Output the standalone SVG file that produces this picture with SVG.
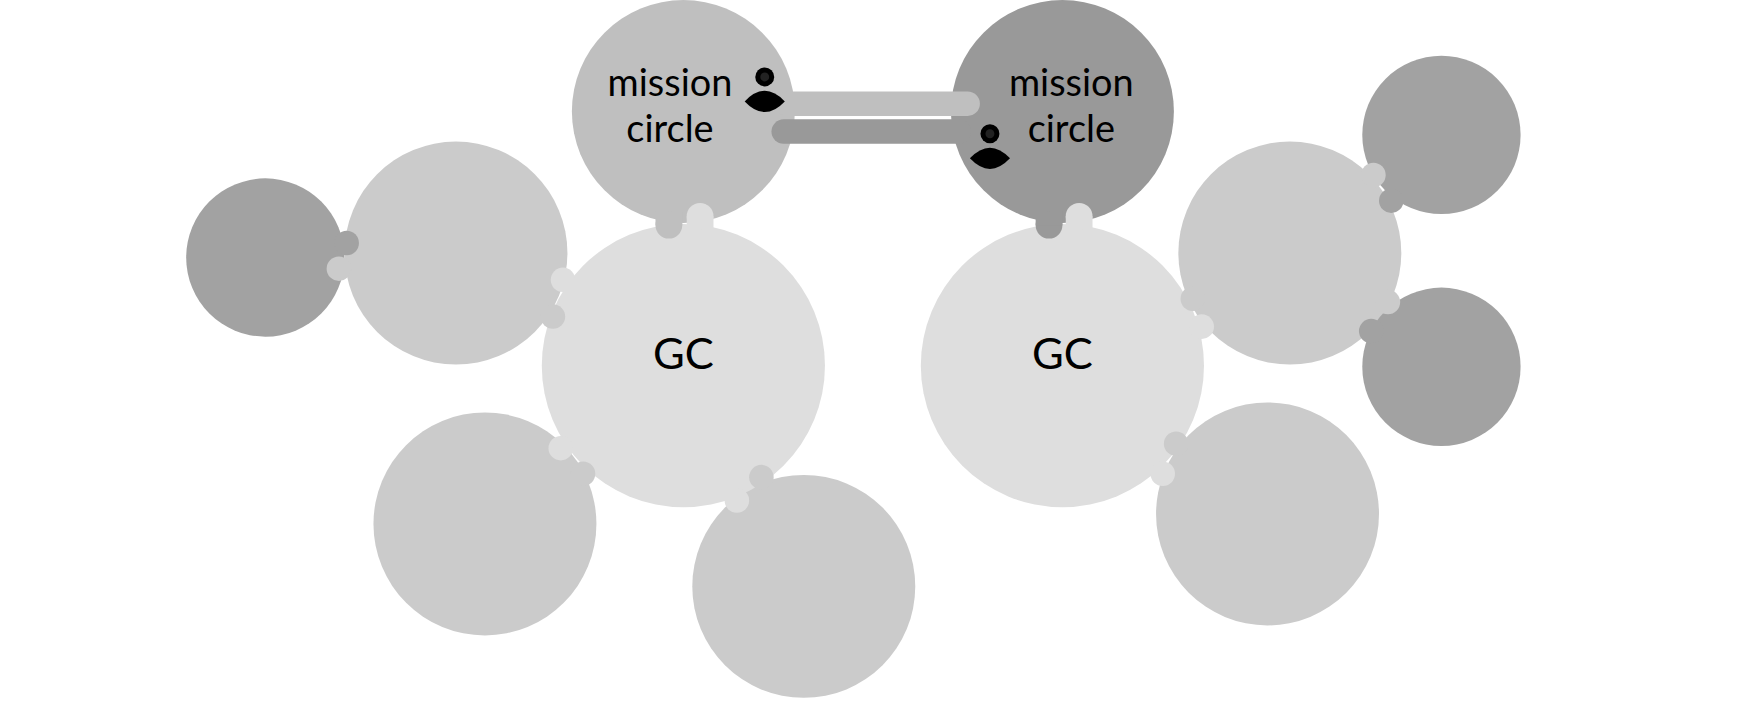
<svg xmlns="http://www.w3.org/2000/svg" width="1748" height="702" viewBox="0 0 1748 702">
<style>
.mc1{fill:#bfbfbf}.mc2{fill:#999}.gc{fill:#dedede}.c{fill:#cbcbcb}.d{fill:#a2a2a2}
text{font-family:Lato,"Noto Sans",sans-serif;fill:#000;text-anchor:middle}
.bar{stroke-linecap:round;stroke-width:22;fill:none}
</style>
<defs>
<g id="person"><circle cx="0" cy="-11" r="8.5" fill="#000"/><circle cx="0" cy="-11" r="4" fill="#222"/><path d="M-18,11 Q0,-8 18,11 Q0,30 -18,11Z" fill="#000"/></g>
</defs>
<rect width="1748" height="702" fill="#fff"/>
<g transform="scale(1.1148)">
<g id="left-dark"><circle class="d" cx="238" cy="231" r="71"/></g>
<g id="left-a"><circle class="c" cx="409" cy="227" r="100"/></g>
<g id="left-b"><circle class="c" cx="435" cy="470" r="100"/></g>
<g id="left-c"><circle class="c" cx="721" cy="526" r="100"/></g>
<g id="right-a"><circle class="c" cx="1157" cy="227" r="100"/></g>
<g id="right-b"><circle class="c" cx="1137" cy="461" r="100"/></g>
<g id="right-dark1"><circle class="d" cx="1293" cy="121" r="71"/></g>
<g id="right-dark2"><circle class="d" cx="1293" cy="329" r="71"/></g>
<g id="gc-left"><circle class="gc" cx="613" cy="328" r="127"/><text x="613" y="321" font-size="39" dominant-baseline="middle">GC</text></g>
<g id="gc-right"><circle class="gc" cx="953" cy="328" r="127"/><text x="953" y="321" font-size="39" dominant-baseline="middle">GC</text></g>
<g id="mission-left"><circle class="mc1" cx="613" cy="100" r="100"/>
<text x="601" y="86" font-size="34">mission</text><text x="601" y="127" font-size="34">circle</text></g>
<g id="mission-right"><circle class="mc2" cx="953" cy="100" r="100"/>
<text x="961" y="86" font-size="34">mission</text><text x="961" y="127" font-size="34">circle</text></g>
<g id="connectors">
<line class="bar" x1="706" y1="93" x2="868" y2="93" stroke="#bfbfbf"/>
<line class="bar" x1="703" y1="118" x2="860" y2="118" stroke="#999"/>
<circle class="mc1" cx="600" cy="202" r="12"/><rect class="mc1" x="588" y="190" width="24" height="12"/>
<circle class="gc" cx="628" cy="194" r="12"/><rect class="gc" x="616" y="194" width="24" height="12"/>
<circle class="mc2" cx="941" cy="202" r="12"/><rect class="mc2" x="929" y="190" width="24" height="12"/>
<circle class="gc" cx="968" cy="194" r="12"/><rect class="gc" x="956" y="194" width="24" height="12"/>
<circle class="d" cx="311" cy="218" r="11"/><circle class="c" cx="304" cy="241" r="11"/>
<circle class="gc" cx="505" cy="251" r="11"/><circle class="c" cx="496" cy="284" r="11"/>
<circle class="gc" cx="503" cy="402" r="11"/><circle class="c" cx="523" cy="425" r="11"/>
<circle class="c" cx="683" cy="428" r="11"/><circle class="gc" cx="661" cy="449" r="11"/>
<circle class="c" cx="1070" cy="268" r="11"/><circle class="gc" cx="1078" cy="293" r="11"/>
<circle class="c" cx="1055" cy="398" r="11"/><circle class="gc" cx="1043" cy="425" r="11"/>
<circle class="c" cx="1232" cy="157" r="11"/><circle class="d" cx="1248" cy="180" r="11"/>
<circle class="c" cx="1245" cy="271" r="11"/><circle class="d" cx="1230" cy="297" r="11"/>
</g>
<use href="#person" x="686" y="80"/><use href="#person" x="888" y="131"/>
</g>
</svg>
